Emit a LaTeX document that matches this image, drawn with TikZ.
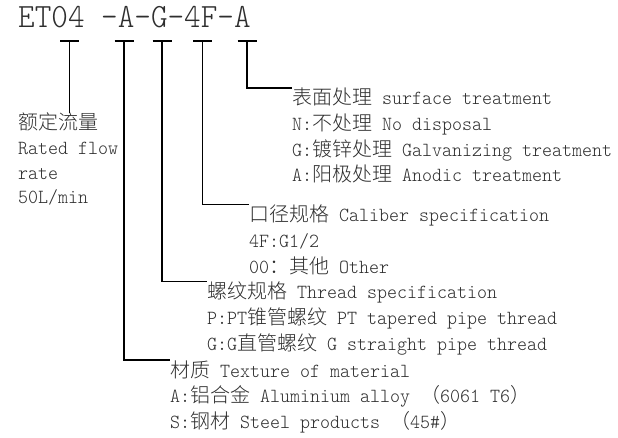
\documentclass[tikz,border=0pt]{standalone}
\usepackage{fontspec}
\setmainfont{Latin Modern Mono Light}[FakeStretch=0.952]
\newfontfamily\cjk{Noto Sans CJK SC}[UprightFont={* Light}]
\newfontfamily\titlefont{Latin Modern Mono Light}[FakeStretch=0.93]
\newcommand\zh[1]{{\cjk #1}}
\definecolor{txtgray}{HTML}{2E2E2E}
\begin{document}
\begin{tikzpicture}[x=1pt,y=-1pt,
  lbl/.style={anchor=base west, inner sep=0pt, align=left, text=txtgray,
              font=\fontsize{20}{25.7}\selectfont},
  lead/.style={line width=1.5pt, black}]
\useasboundingbox[fill=white] (0,0) rectangle (618,438);
% title
\node[anchor=base west, inner sep=0pt, text=txtgray,
      font=\titlefont\fontsize{34}{34}\selectfont] (title) at (18,28) {ET04 -A-G-4F-A};
% T-bar tops
\coordinate (b1) at (69.5,41);
\coordinate (b2) at (124,41);
\coordinate (b3) at (162,41);
\coordinate (b4) at (202.5,41);
\coordinate (b5) at (247,41);
\foreach \i in {1,...,5}{
  \draw[lead] ([xshift=-9.5pt]b\i) -- ([xshift=9.5pt]b\i);
}
% text groups (anchored at the baseline of their last line)
\node[lbl, font=\fontsize{20}{24.7}\selectfont] (flow) at (18,204)
  {\zh{额定流量}\\Rated flow\\rate\\50L/min};
\node[lbl] (surf) at (292,182)
  {\zh{表面处理} surface treatment\\N:\zh{不处理} No disposal\\G:\zh{镀锌处理} Galvanizing treatment\\A:\zh{阳极处理} Anodic treatment};
\node[lbl] (cal) at (249,273)
  {\zh{口径规格} Caliber specification\\4F:G1/2\\00\zh{：其他} Other};
\node[lbl] (thr) at (207,350)
  {\zh{螺纹规格} Thread specification\\P:PT\zh{锥管螺纹} PT tapered pipe thread\\G:G\zh{直管螺纹} G straight pipe thread};
\node[lbl] (mat) at (170,428.5)
  {\zh{材质} Texture of material\\A:\zh{铝合金} Aluminium alloy \zh{（}6061 T6\zh{）}\\S:\zh{钢材} Steel products \zh{（}45\#\zh{）}};
% leaders
\draw[lead] (b1) -- (b1 |- flow.north);
\draw[lead] (b5) |- (surf.north west);
\draw[lead] (b4) |- (cal.north west);
\draw[lead] (b3) |- (thr.north west);
\draw[lead] (b2) |- (mat.north west);
\end{tikzpicture}
\end{document}
